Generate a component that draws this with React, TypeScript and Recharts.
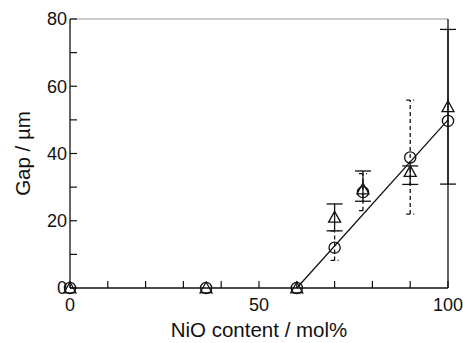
import React from "react";
import {
  ScatterChart,
  Scatter,
  XAxis,
  YAxis,
  ErrorBar,
  ReferenceLine,
} from "recharts";

// NiO content (mol%)
const nio = [0, 36, 60, 70, 77.5, 90, 100];
// gap, circles and triangles (µm)
const gapCircle = [0, 0, 0, 12, 28.5, 38.8, 49.7];
const gapTriangle = [0, 0, 0, 21, 29.4, 34.6, 53.9];

// error bars [below, above]
const circleErrX = [70, 77.5, 90];
const circleErrY = [12, 28.5, 38.8];
const circleErr = [
  [3.8, 5],
  [5.5, 5.5],
  [16.8, 17.1],
];
const triErrX = [70, 77.5, 90, 100];
const triErrY = [21, 29.4, 34.6, 53.9];
const triErr = [
  [4, 4],
  [3.6, 5.4],
  [3.8, 1.7],
  [23, 23],
];

// linear fit end points
const fitX = [60, 100];
const fitY = [0, 50];

const xTicks = [0, 10, 20, 30, 40, 50, 60, 70, 80, 90, 100];
const xLabels = [0, 50, 100];
const yTicks = [0, 10, 20, 30, 40, 50, 60, 70, 80];
const yLabels = [0, 20, 40, 60, 80];

const circles = nio.map((x, i) => ({ x, y: gapCircle[i] }));
const triangles = nio.map((x, i) => ({ x, y: gapTriangle[i] }));
const circleBars = circleErrX.map((x, i) => ({ x, y: circleErrY[i], err: circleErr[i] }));
const triBars = triErrX.map((x, i) => ({ x, y: triErrY[i], err: triErr[i] }));
const fit = fitX.map((x, i) => ({ x, y: fitY[i] }));

const FONT = "'Liberation Sans', Arial, sans-serif";
const INK = "#111";

const CircleMark = (p: any) => (
  <circle cx={p.cx} cy={p.cy} r={5.6} fill="none" stroke={INK} strokeWidth={1.3} />
);

const TriangleMark = (p: any) => {
  const { cx, cy } = p;
  const s = 6;
  return (
    <polygon
      points={`${cx},${cy - s} ${cx - s},${cy + s * 0.8} ${cx + s},${cy + s * 0.8}`}
      fill="none"
      stroke={INK}
      strokeWidth={1.3}
    />
  );
};

const Empty = () => <g />;

const XTick = (p: any) => {
  const { x, y, payload } = p;
  const v = payload.value;
  return (
    <g>
      <line x1={x} y1={y} x2={x} y2={y - 7} stroke={INK} strokeWidth={1.2} />
      {xLabels.includes(v) && (
        <text x={x} y={y + 23} textAnchor="middle" fontSize={18} fill={INK} fontFamily={FONT}>
          {v}
        </text>
      )}
    </g>
  );
};

const YTick = (p: any) => {
  const { x, y, payload } = p;
  const v = payload.value;
  return (
    <g>
      <line x1={x} y1={y} x2={x + 7} y2={y} stroke={INK} strokeWidth={1.2} />
      {yLabels.includes(v) && (
        <text x={x - 3} y={y} dy="0.36em" textAnchor="end" fontSize={18} fill={INK} fontFamily={FONT}>
          {v}
        </text>
      )}
    </g>
  );
};

const RTick = (p: any) => {
  const { x, y } = p;
  return <line x1={x} y1={y} x2={x - 7} y2={y} stroke={INK} strokeWidth={1.2} />;
};

export default function App() {
  return (
    <div style={{ width: 463, height: 343, background: "#fff" }}>
      <style>{"body{margin:0}"}</style>
      <ScatterChart
        width={463}
        height={343}
        margin={{ top: 19, right: 5, bottom: 25, left: 10 }}
      >
        <XAxis
          type="number"
          dataKey="x"
          domain={[0, 100]}
          ticks={xTicks}
          interval={0}
          tickSize={0}
          tickMargin={0}
          tickLine={false}
          tick={<XTick />}
          height={30}
          axisLine={{ stroke: INK, strokeWidth: 1.3 }}
          label={{
            content: (props: any) => {
              const vb = props.viewBox;
              return (
                <text
                  x={vb.x + vb.width / 2}
                  y={vb.y + 49}
                  textAnchor="middle"
                  fontSize={20.5}
                  fill={INK}
                  fontFamily={FONT}
                >
                  NiO content / mol%
                </text>
              );
            },
          }}
        />
        <YAxis
          yAxisId="l"
          type="number"
          dataKey="y"
          domain={[0, 80]}
          ticks={yTicks}
          interval={0}
          tickSize={0}
          tickMargin={0}
          tickLine={false}
          tick={<YTick />}
          width={60}
          axisLine={{ stroke: INK, strokeWidth: 1.3 }}
          label={{
            content: (props: any) => {
              const vb = props.viewBox;
              const cx = vb.x + 12;
              const cy = vb.y + vb.height / 2;
              return (
                <text
                  x={cx}
                  y={cy}
                  transform={`rotate(-90 ${cx} ${cy})`}
                  textAnchor="middle"
                  dominantBaseline="central"
                  fontSize={20.5}
                  fill={INK}
                  fontFamily={FONT}
                >
                  Gap / µm
                </text>
              );
            },
          }}
        />
        <YAxis
          yAxisId="r"
          orientation="right"
          type="number"
          domain={[0, 80]}
          ticks={yTicks}
          interval={0}
          tickSize={0}
          tickMargin={0}
          tickLine={false}
          tick={<RTick />}
          width={10}
          axisLine={{ stroke: INK, strokeWidth: 1.3 }}
        />
        <ReferenceLine yAxisId="l" y={80} stroke="#999" strokeWidth={1} />
        <Scatter
          yAxisId="l"
          data={fit}
          line={{ stroke: INK, strokeWidth: 1.3 }}
          shape={<Empty />}
          isAnimationActive={false}
        />
        <Scatter yAxisId="l" data={circleBars} shape={<Empty />} isAnimationActive={false}>
          <ErrorBar
            dataKey="err"
            direction="y"
            width={4}
            stroke={INK}
            strokeWidth={1.3}
            strokeDasharray="4 3"
          />
        </Scatter>
        <Scatter yAxisId="l" data={triBars} shape={<Empty />} isAnimationActive={false}>
          <ErrorBar dataKey="err" direction="y" width={8} stroke={INK} strokeWidth={1.3} />
        </Scatter>
        <Scatter yAxisId="l" data={circles} shape={<CircleMark />} isAnimationActive={false} />
        <Scatter yAxisId="l" data={triangles} shape={<TriangleMark />} isAnimationActive={false} />
      </ScatterChart>
    </div>
  );
}
